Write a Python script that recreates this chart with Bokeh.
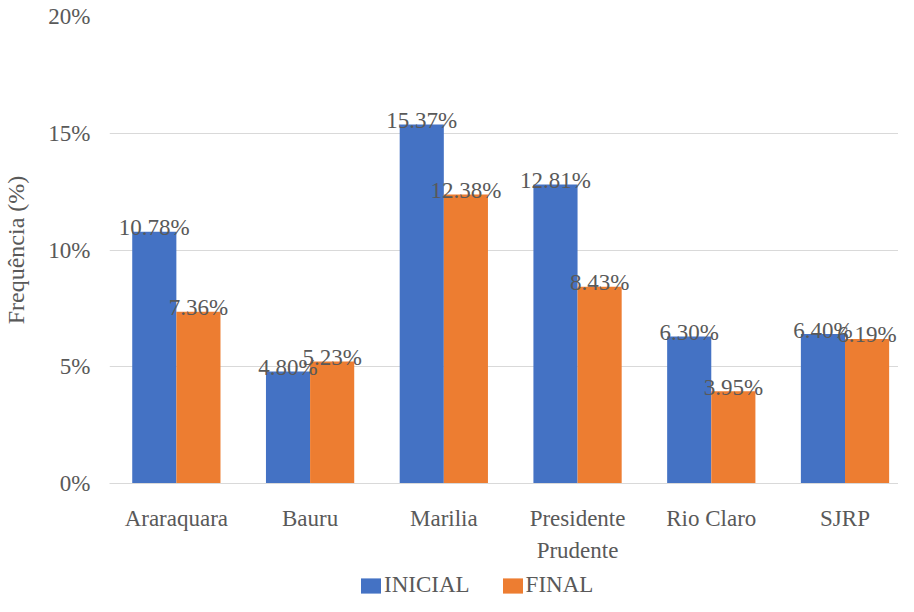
import numpy as np
from bokeh.plotting import figure
from bokeh.layouts import column
from bokeh.models import Range1d, FixedTicker, PrintfTickFormatter, Legend, LegendItem
from bokeh.core.properties import value
from bokeh.embed import file_html
from bokeh.resources import INLINE

# ---- data ----
categories = ["Araraquara", "Bauru", "Marilia", "Presidente\nPrudente", "Rio Claro", "SJRP"]
inicial = [10.78, 4.80, 15.37, 12.81, 6.30, 6.40]
final = [7.36, 5.23, 12.38, 8.43, 3.95, 6.19]
series_names = ["INICIAL", "FINAL"]
y_ticks = [0, 5, 10, 15, 20]
y_label = "Frequência (%)"

# ---- style ----
FONT = "Liberation Serif"
TEXT = "#595959"
GRID = "#D9D9D9"
COLORS = ["#4472C4", "#ED7D31"]
FS = "23px"

centers = np.arange(len(categories)) + 0.5
bar_w = 0.33

p = figure(width=898, height=566,
           x_range=Range1d(0, 5.9), y_range=Range1d(0, 20),
           output_backend="svg", toolbar_location=None,
           min_border_left=99, min_border_right=0,
           min_border_top=16, min_border_bottom=83)
p.outline_line_color = None
p.background_fill_color = "white"

r1 = p.vbar(x=centers - bar_w / 2, top=inicial, width=bar_w,
            fill_color=COLORS[0], line_color=None)
r2 = p.vbar(x=centers + bar_w / 2, top=final, width=bar_w,
            fill_color=COLORS[1], line_color=None)

p.text(x=centers - bar_w / 2, y=inicial, text=[f"{v:.2f}%" for v in inicial],
       text_align="center", text_baseline="alphabetic", y_offset=-4,
       text_font=value(FONT), text_font_size=FS, text_color=TEXT)
p.text(x=centers + bar_w / 2, y=final, text=[f"{v:.2f}%" for v in final],
       text_align="center", text_baseline="alphabetic", y_offset=-4,
       text_font=value(FONT), text_font_size=FS, text_color=TEXT)

# grid
p.xgrid.grid_line_color = None
p.ygrid.grid_line_color = GRID
p.ygrid.grid_line_width = 1
p.ygrid.ticker = FixedTicker(ticks=y_ticks)

# y axis
p.yaxis.ticker = FixedTicker(ticks=y_ticks)
p.yaxis.formatter = PrintfTickFormatter(format="%d%%")
p.yaxis.axis_line_color = None
p.yaxis.major_tick_line_color = None
p.yaxis.minor_tick_line_color = None
p.yaxis.major_label_standoff = 13
p.yaxis.major_label_text_font = FONT
p.yaxis.major_label_text_font_size = FS
p.yaxis.major_label_text_color = TEXT
p.yaxis.axis_label = y_label
p.yaxis.axis_label_text_font = FONT
p.yaxis.axis_label_text_font_size = "24px"
p.yaxis.axis_label_text_font_style = "normal"
p.yaxis.axis_label_text_color = TEXT
p.yaxis.axis_label_standoff = 16

# x axis
p.xaxis.ticker = FixedTicker(ticks=list(centers))
p.xaxis.major_label_overrides = {float(c): name for c, name in zip(centers, categories)}
p.xaxis.axis_line_color = GRID
p.xaxis.major_tick_line_color = None
p.xaxis.minor_tick_line_color = None
p.xaxis.major_label_standoff = 16
p.xaxis.major_label_text_font = FONT
p.xaxis.major_label_text_font_size = FS
p.xaxis.major_label_text_color = TEXT
p.xaxis.major_label_text_line_height = 1.28

# ---- legend strip below the chart ----
lg = figure(width=898, height=30, x_range=Range1d(0, 1), y_range=Range1d(0, 1),
            output_backend="svg", toolbar_location=None,
            x_axis_location=None, y_axis_location=None,
            min_border_left=0, min_border_right=0, min_border_top=0, min_border_bottom=0)
lg.grid.visible = False
lg.outline_line_color = None
k1 = lg.vbar(x=centers, top=inicial, width=bar_w, fill_color=COLORS[0], line_color=None, visible=False)
k2 = lg.vbar(x=centers, top=final, width=bar_w, fill_color=COLORS[1], line_color=None, visible=False)

legend = Legend(items=[LegendItem(label=series_names[0], renderers=[k1]),
                       LegendItem(label=series_names[1], renderers=[k2])],
                orientation="horizontal", location=(249, -2),
                border_line_color=None, background_fill_alpha=0,
                padding=0, margin=0, spacing=30,
                glyph_width=25, glyph_height=19, label_height=19,
                label_standoff=1,
                label_text_font=FONT, label_text_font_size=FS,
                label_text_color=TEXT)
lg.add_layout(legend, "center")

layout = column(p, lg, spacing=0)
open("out.html", "w").write(file_html(layout, INLINE))
